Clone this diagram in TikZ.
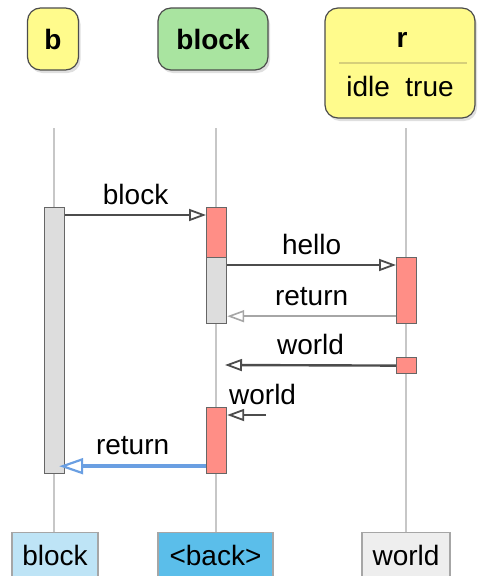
\documentclass[tikz,border=0pt]{standalone}
\usepackage{fontspec}
\setmainfont{Liberation Sans}
\usepackage{xcolor}
\usetikzlibrary{arrows.meta,shadows}

\definecolor{hdyellow}{HTML}{FFFB8C}
\definecolor{hdgreen}{HTML}{A9E4A0}
\definecolor{hdrule}{HTML}{D6CF7A}
\definecolor{actred}{HTML}{FF8E86}
\definecolor{actgray}{HTML}{DDDDDD}
\definecolor{ftlight}{HTML}{BEE4F6}
\definecolor{ftblue}{HTML}{5BBEEA}
\definecolor{ftgray}{HTML}{EEEEEE}
\definecolor{rtblue}{HTML}{6A9FE2}

\begin{document}
\begin{tikzpicture}[x=1pt,y=-1pt]
			\useasboundingbox (0,0) rectangle (482,576);
			\tikzstyle{every node}=[inner sep=0pt,font=\fontsize{28}{32}\selectfont]
			\tikzstyle{head}=[draw=black!70,line width=1.2pt,rounded corners=13pt,drop shadow={shadow xshift=2pt,shadow yshift=-3pt,opacity=0.25},font=\fontsize{28}{32}\selectfont\bfseries]
			\tikzstyle{life}=[draw=black!22,line width=1.5pt]
			\tikzstyle{bar}=[draw=black!60,line width=1.2pt,minimum width=20pt,anchor=north west]
			\tikzstyle{foot}=[draw=black!35,line width=1.2pt,anchor=north,minimum height=46pt]
			\tikzstyle{msg}=[draw=black!70,line width=2.4pt,-{Triangle[open,length=17pt,width=12pt,line width=1.8pt]}]
			\tikzstyle{reply}=[draw=black!35,line width=2.2pt,-{Triangle[open,length=17pt,width=12pt,line width=1.6pt]}]
			\tikzstyle{back}=[draw=rtblue,line width=4pt,-{Triangle[open,length=24pt,width=16pt,line width=2.2pt]}]
			\tikzstyle{lbl}=[above=9pt,midway]
			% heads
			\node[head,fill=hdyellow,minimum width=51pt,minimum height=62pt] (b) at (53,39) {b};
			\node[head,fill=hdgreen,minimum width=110pt,minimum height=62pt] (k) at (213,39) {block};
			\node[head,fill=hdyellow,minimum width=150pt,minimum height=110pt] (r) at (400,63) {};
			\node[font=\fontsize{28}{32}\selectfont\bfseries] (rname) at (402,40) {r};
			\node (ridle) at (400,86) {idle\ \ true};
			\draw[hdrule,line width=1.5pt] ([xshift=15pt]r.west) -- ([xshift=-9pt]r.east);
			% feet
			\node[foot,fill=ftlight,minimum width=86pt] (fb) at (55,532) {block};
			\node[foot,fill=ftblue,minimum width=115pt] (fk) at (215.5,532) {<back>};
			\node[foot,fill=ftgray,minimum width=88pt] (fr) at (406,532) {world};
			% lifelines
			\coordinate (bL) at (54,128);
			\coordinate (kL) at (216,128);
			\coordinate (rL) at (406,128);
			\draw[life] (bL) -- (bL |- fb.north);
			\draw[life] (kL) -- (kL |- fk.north);
			\draw[life] (rL) -- (rL |- fr.north);
			% activations
			\node[bar,fill=actgray,minimum height=266pt] (bA) at (44,207) {};
			\node[bar,fill=actred,minimum height=50pt] (kA) at (206,207) {};
			\node[bar,fill=actgray,minimum height=66pt] (kB) at (206,257) {};
			\node[bar,fill=actred,minimum height=66pt] (rA) at (396,257) {};
			\node[bar,fill=actred,minimum height=16pt] (rB) at (396,357) {};
			\node[bar,fill=actred,minimum height=66pt] (kC) at (206,407) {};
			% messages
			\coordinate (wTip) at (225,365);
			\coordinate (wSrc) at (266,415);
			\draw[msg] ([yshift=-8pt]bA.north east) -- node[lbl] {block} ([yshift=-8pt]kA.north west);
			\draw[msg] ([yshift=-8pt]kB.north east) -- node[lbl] {hello} ([yshift=-8pt]rA.north west);
			\draw[reply] ([yshift=8pt]rA.south west) -- node[lbl] {return} ([yshift=8pt]kB.south east);
			\draw[msg] (rB.west) -- node[lbl] {world} (wTip);
			\draw[msg] (wSrc) -- node[lbl,xshift=16pt] {world} ([yshift=-8pt]kC.north east);
			\draw[back] ([yshift=8pt]kC.south west) -- node[lbl] {return} ([yshift=8pt,xshift=-6pt]bA.south east);
		\end{tikzpicture}
\end{document}
